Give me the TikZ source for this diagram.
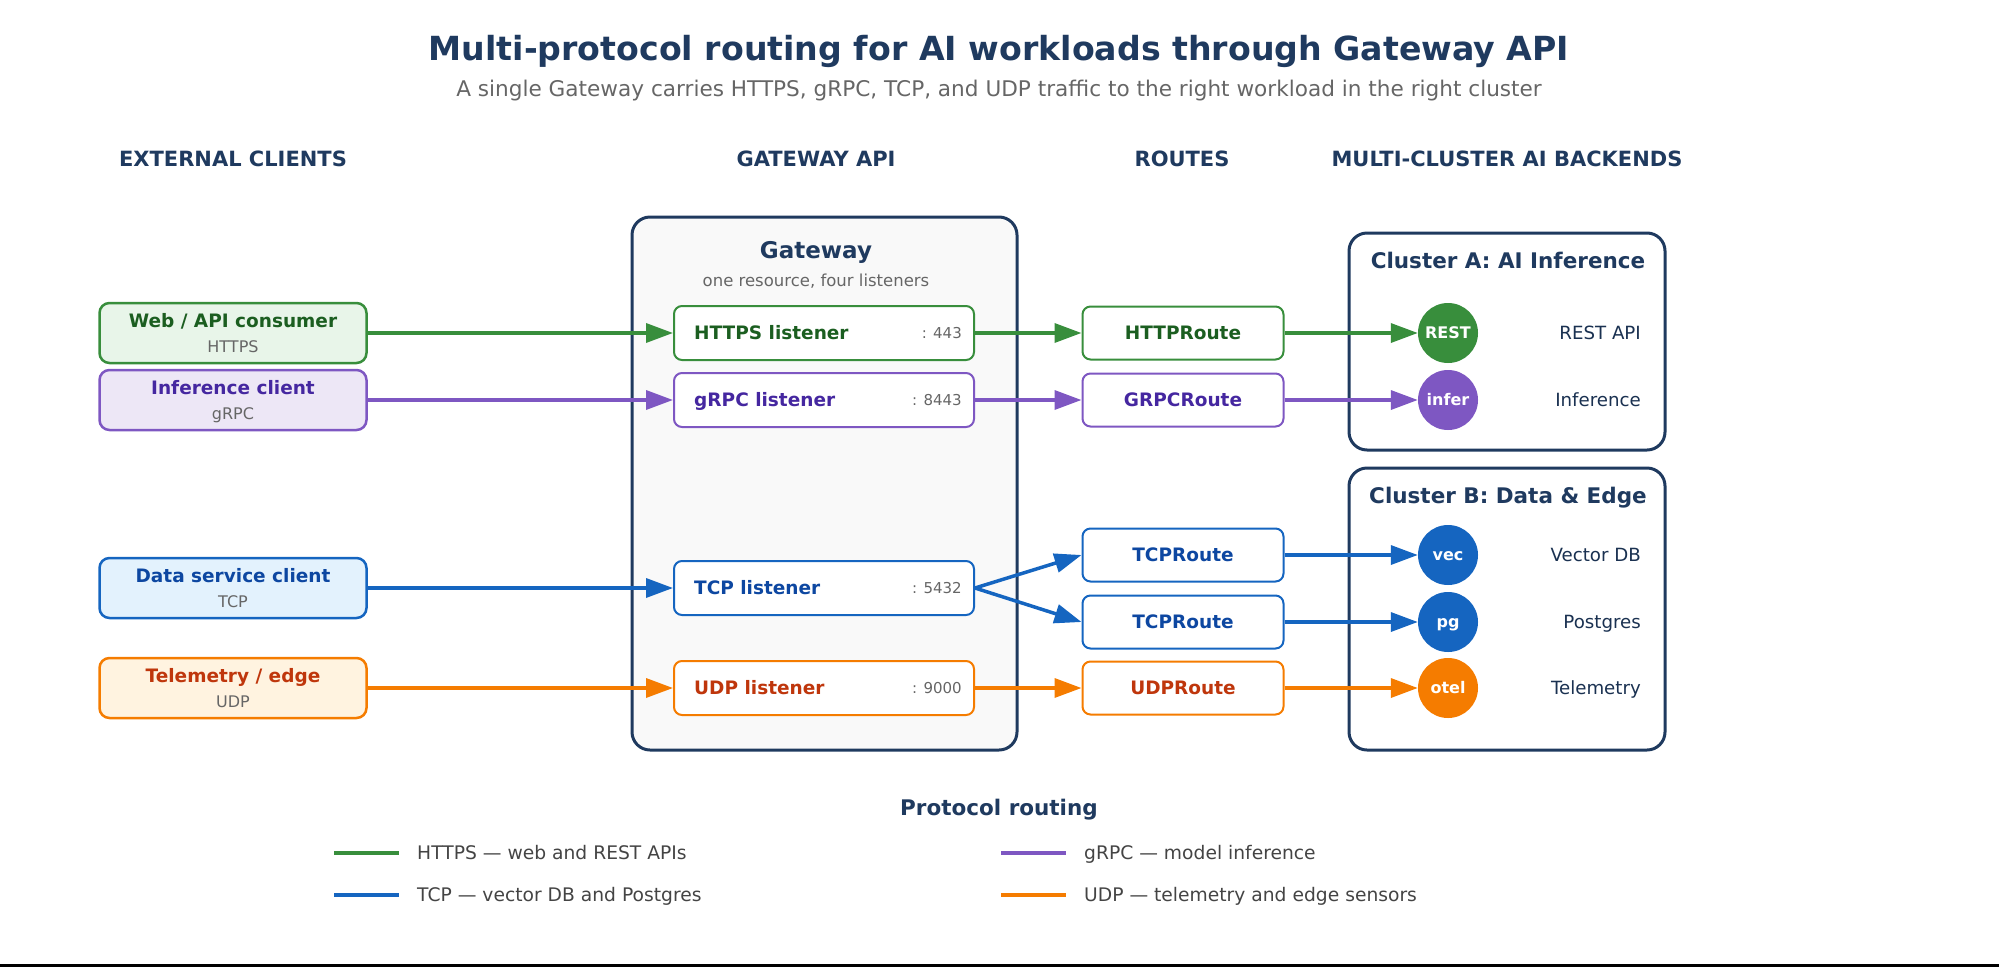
\documentclass[tikz,border=0pt]{standalone}
\usepackage{fontspec}
\setmainfont{DejaVu Sans}
\usetikzlibrary{arrows.meta, calc, positioning}
\definecolor{navy}{RGB}{31,58,95}
\definecolor{subgray}{RGB}{102,102,102}
\definecolor{keygray}{RGB}{68,68,68}
\definecolor{gwfill}{RGB}{249,249,249}
\definecolor{pgreen}{RGB}{56,142,60}
\definecolor{pgreenbg}{RGB}{232,245,233}
\definecolor{pgreentx}{RGB}{27,94,32}
\definecolor{ppurple}{RGB}{126,87,194}
\definecolor{ppurplebg}{RGB}{237,231,246}
\definecolor{ppurpletx}{RGB}{69,39,160}
\definecolor{pblue}{RGB}{21,101,192}
\definecolor{pbluebg}{RGB}{227,242,253}
\definecolor{pbluetx}{RGB}{13,71,161}
\definecolor{porange}{RGB}{245,124,0}
\definecolor{porangebg}{RGB}{255,243,224}
\definecolor{porangetx}{RGB}{191,54,12}
\newcommand\fs[1]{\fontsize{#1}{#1}\selectfont}

\begin{document}
\begin{tikzpicture}[
  x=1pt, y=-1pt, >={Triangle[length=27pt, width=19pt]},
  txt/.style={inner sep=0pt, text depth=0pt},
  ttl/.style={txt, font=\fs{33.2}\bfseries, text=navy, text height=24pt},
  subttl/.style={txt, font=\fs{21.6}, text=subgray, text height=15.7pt},
  colhead/.style={txt, font=\fs{21}\bfseries, text=navy, text height=15.3pt},
  boxttl/.style={txt, font=\fs{#1}\bfseries, text=navy, text height=0.73*#1pt},
  note/.style={txt, font=\fs{16.5}, text=subgray, text height=12pt},
  client/.style={rectangle, rounded corners=10pt, draw=#1, fill=#1bg, line width=2.5pt, minimum width=267pt, minimum height=60pt},
  cname/.style={txt, font=\fs{18.5}\bfseries, text=#1tx, text height=13.5pt},
  csub/.style={txt, font=\fs{16}, text=subgray, text height=11.7pt},
  gwbox/.style={rectangle, rounded corners=18pt, draw=navy, fill=gwfill, line width=3pt},
  cluster/.style={rectangle, rounded corners=18pt, draw=navy, fill=white, line width=3pt},
  lstn/.style={rectangle, rounded corners=8pt, draw=#1, fill=white, line width=2pt, minimum width=300pt, minimum height=54pt},
  port/.style={txt, font=\fs{15}, text=subgray, text height=11pt, anchor=east},
  route/.style={rectangle, rounded corners=8pt, draw=#1, fill=white, line width=2pt, minimum width=201pt, minimum height=53pt, font=\fs{18.5}\bfseries, text=#1tx, text height=13.5pt, text depth=0pt},
  backend/.style={circle, fill=#1, minimum size=60pt, inner sep=0pt, text=white, font=\fs{16}\bfseries, text height=11.7pt, text depth=0pt},
  blab/.style={txt, font=\fs{18.2}, text=navy!85!black, text height=13.3pt, anchor=east},
  flow/.style={->, line width=3.5pt, draw=#1},
  key/.style={line width=3.5pt, draw=#1},
  keytxt/.style={txt, font=\fs{18.7}, text=keygray, text height=13.6pt, anchor=west},
]
\useasboundingbox (0,0) rectangle (1999,967);

% ---- title
\node[ttl]    (title) at (999,48) {Multi-protocol routing for AI workloads through Gateway API};
\node[subttl] (sub)   at (999,89) {A single Gateway carries HTTPS, gRPC, TCP, and UDP traffic to the right workload in the right cluster};

% ---- column heads
\node[colhead] (h1) at (233,159)  {EXTERNAL CLIENTS};
\node[colhead] (h2) at (816,159)  {GATEWAY API};
\node[colhead] (h3) at (1182,159) {ROUTES};
\node[colhead] (h4) at (1507,159) {MULTI-CLUSTER AI BACKENDS};

% ---- containers
\node[gwbox, minimum width=385pt, minimum height=533pt] (gw) at (824.5,483.5) {};
\node[boxttl=23] at (816,250) {Gateway};
\node[note]      at (816,280) {one resource, four listeners};
\node[cluster, minimum width=316pt, minimum height=217pt] (ca) at (1507,341.5) {};
\node[boxttl=21.5] at (1508,261) {Cluster A: AI Inference};
\node[cluster, minimum width=316pt, minimum height=282pt] (cb) at (1507,609) {};
\node[boxttl=21.5] at (1508,496) {Cluster B: Data \& Edge};

% ---- clients
\node[client=pgreen]  (cweb) at (233,333) {};
\node[client=ppurple] (cinf) at (233,400) {};
\node[client=pblue]   (cdat) at (233,588) {};
\node[client=porange] (ctel) at (233,688) {};
\node[cname=pgreen]  at ($(cweb.center)+(0,-12)$) {Web / API consumer};
\node[csub]          at ($(cweb.center)+(0,14)$)  {HTTPS};
\node[cname=ppurple] at ($(cinf.center)+(0,-12)$) {Inference client};
\node[csub]          at ($(cinf.center)+(0,14)$)  {gRPC};
\node[cname=pblue]   at ($(cdat.center)+(0,-12)$) {Data service client};
\node[csub]          at ($(cdat.center)+(0,14)$)  {TCP};
\node[cname=porange] at ($(ctel.center)+(0,-12)$) {Telemetry / edge};
\node[csub]          at ($(ctel.center)+(0,14)$)  {UDP};

% ---- listeners
\node[lstn=pgreen]  (lhttps) at (824,333) {};
\node[lstn=ppurple] (lgrpc)  at (824,400) {};
\node[lstn=pblue]   (ltcp)   at (824,588) {};
\node[lstn=porange] (ludp)   at (824,688) {};
\node[cname=pgreen,  anchor=west] at ($(lhttps.west)+(21,0)$) {HTTPS listener};
\node[cname=ppurple, anchor=west] at ($(lgrpc.west)+(21,0)$)  {gRPC listener};
\node[cname=pblue,   anchor=west] at ($(ltcp.west)+(21,0)$)   {TCP listener};
\node[cname=porange, anchor=west] at ($(ludp.west)+(21,0)$)   {UDP listener};
\node[port] at ($(lhttps.east)+(-13,0)$) {: 443};
\node[port] at ($(lgrpc.east)+(-13,0)$)  {: 8443};
\node[port] at ($(ltcp.east)+(-13,0)$)   {: 5432};
\node[port] at ($(ludp.east)+(-13,0)$)   {: 9000};

% ---- routes
\node[route=pgreen]  (rhttp) at (1183,333) {HTTPRoute};
\node[route=ppurple] (rgrpc) at (1183,400) {GRPCRoute};
\node[route=pblue]   (rtcpa) at (1183,555) {TCPRoute};
\node[route=pblue]   (rtcpb) at (1183,622) {TCPRoute};
\node[route=porange] (rudp)  at (1183,688) {UDPRoute};

% ---- edges
\draw[flow=pgreen]  (cweb) -- (lhttps);
\draw[flow=ppurple] (cinf) -- (lgrpc);
\draw[flow=pblue]   (cdat) -- (ltcp);
\draw[flow=porange] (ctel) -- (ludp);
\draw[flow=pgreen]  (lhttps) -- (rhttp);
\draw[flow=ppurple] (lgrpc) -- (rgrpc);
\draw[flow=pblue]   (ltcp.east) -- (rtcpa.west);
\draw[flow=pblue]   (ltcp.east) -- (rtcpb.west);
\draw[flow=porange] (ludp) -- (rudp);

% ---- backends
\node[backend=pgreen]  (brest) at (1448,333) {REST};
\node[backend=ppurple] (binf)  at (1448,400) {infer};
\node[backend=pblue]   (bvec)  at (1448,555) {vec};
\node[backend=pblue]   (bpg)   at (1448,622) {pg};
\node[backend=porange] (botel) at (1448,688) {otel};
\draw[flow=pgreen]  (rhttp) -- (brest);
\draw[flow=ppurple] (rgrpc) -- (binf);
\draw[flow=pblue]   (rtcpa) -- (bvec);
\draw[flow=pblue]   (rtcpb) -- (bpg);
\draw[flow=porange] (rudp)  -- (botel);
\node[blab] at (1641,333) {REST API};
\node[blab] at (1641,400) {Inference};
\node[blab] at (1641,555) {Vector DB};
\node[blab] at (1641,622) {Postgres};
\node[blab] at (1641,688) {Telemetry};

% ---- legend
\node[boxttl=21.5] (lt) at (999,808) {Protocol routing};
\draw[key=pgreen]  (334,853)  -- (399,853);
\node[keytxt] at (417,853)  {HTTPS — web and REST APIs};
\draw[key=ppurple] (1001,853) -- (1066,853);
\node[keytxt] at (1084,853) {gRPC — model inference};
\draw[key=pblue]   (334,895)  -- (399,895);
\node[keytxt] at (417,895)  {TCP — vector DB and Postgres};
\draw[key=porange] (1001,895) -- (1066,895);
\node[keytxt] at (1084,895) {UDP — telemetry and edge sensors};

% ---- bottom rule
\draw[black, line width=2.5pt] (0,965.7) -- (1999,965.7);

\end{tikzpicture}
\end{document}
